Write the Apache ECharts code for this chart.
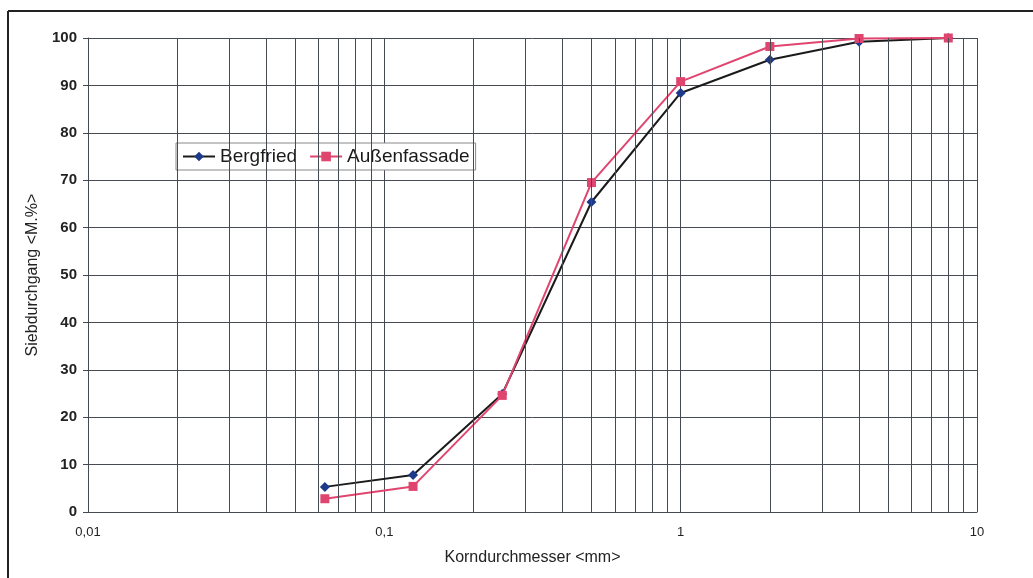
<!DOCTYPE html>
<html>
<head>
<meta charset="utf-8">
<script src="https://cdn.jsdelivr.net/npm/echarts@6/dist/echarts.min.js"></script>
<style>
html,body{margin:0;padding:0;background:#fff;}
#c{width:1033px;height:578px;}
</style>
</head>
<body>
<div id="c"></div>
<script>
const sieveSizes = [0.063, 0.125, 0.25, 0.5, 1, 2, 4, 8];
const bergfried = [5.3, 7.8, 24.9, 65.4, 88.4, 95.4, 99.2, 100];
const aussenfassade = [2.8, 5.4, 24.6, 69.5, 90.8, 98.2, 99.9, 100];
const minorGrid = [0.02,0.03,0.04,0.05,0.06,0.07,0.08,0.09,0.2,0.3,0.4,0.5,0.6,0.7,0.8,0.9,2,3,4,5,6,7,8,9];
const seriesNames = ['Bergfried', 'Außenfassade'];
const xTitle = 'Korndurchmesser <mm>';
const yTitle = 'Siebdurchgang <M.%>';

const gridColor = '#464b53';
const chart = echarts.init(document.getElementById('c'));
chart.setOption({
  backgroundColor: '#fff',
  animation: false,
  textStyle: {fontFamily: 'Liberation Sans, Arial, sans-serif'},
  grid: {left: 88, right: 56, top: 38, bottom: 66},
  graphic: [
    {type: 'line', shape: {x1: 8, y1: 11, x2: 1033, y2: 11}, style: {stroke: '#222', lineWidth: 2}},
    {type: 'line', shape: {x1: 8, y1: 11, x2: 8, y2: 578}, style: {stroke: '#222', lineWidth: 2}}
  ],
  legend: {
    left: 176, top: 143,
    itemGap: 12,
    itemWidth: 32, itemHeight: 12,
    padding: [4, 6, 4, 6],
    backgroundColor: '#fff',
    borderColor: '#888', borderWidth: 1, borderRadius: 0,
    textStyle: {fontSize: 19, color: '#1a1a1a', fontFamily: 'Liberation Sans, Arial, sans-serif'},
    data: seriesNames
  },
  xAxis: {
    type: 'log', logBase: 10, min: 0.01, max: 10,
    name: xTitle, nameLocation: 'middle', nameGap: 38,
    nameTextStyle: {fontSize: 16, color: '#222'},
    axisLine: {show: true, lineStyle: {color: gridColor, width: 1}},
    axisTick: {show: false},
    axisLabel: {fontSize: 13, color: '#222', margin: 14,
      formatter: v => String(+(+v).toPrecision(6)).replace('.', ',')},
    splitLine: {show: true, lineStyle: {color: gridColor, width: 1}}
  },
  yAxis: {
    type: 'value', min: 0, max: 100, interval: 10,
    name: yTitle, nameLocation: 'middle', nameGap: 46,
    nameTextStyle: {fontSize: 16, color: '#222'},
    axisLine: {show: true, lineStyle: {color: gridColor, width: 1}},
    axisTick: {show: true, length: 5, lineStyle: {color: gridColor}},
    axisLabel: {fontSize: 15, fontWeight: 'bold', color: '#222', margin: 11},
    splitLine: {show: true, lineStyle: {color: gridColor, width: 1}}
  },
  series: [
    {
      name: '_grid', type: 'line', data: [], silent: true,
      markLine: {
        silent: true, symbol: 'none', label: {show: false},
        lineStyle: {color: gridColor, width: 1, type: 'solid'},
        emphasis: {disabled: true},
        data: minorGrid.map(v => ({xAxis: v}))
      }
    },
    {
      name: seriesNames[0], type: 'line',
      data: sieveSizes.map((x, i) => [x, bergfried[i]]),
      symbol: 'diamond', symbolSize: 10,
      lineStyle: {color: '#1a1a1a', width: 2},
      itemStyle: {color: '#1d3a8a'},
      z: 3
    },
    {
      name: seriesNames[1], type: 'line',
      data: sieveSizes.map((x, i) => [x, aussenfassade[i]]),
      symbol: 'rect', symbolSize: 9,
      lineStyle: {color: '#e0456f', width: 2},
      itemStyle: {color: '#e0456f'},
      z: 4
    }
  ]
});
</script>
</body>
</html>
